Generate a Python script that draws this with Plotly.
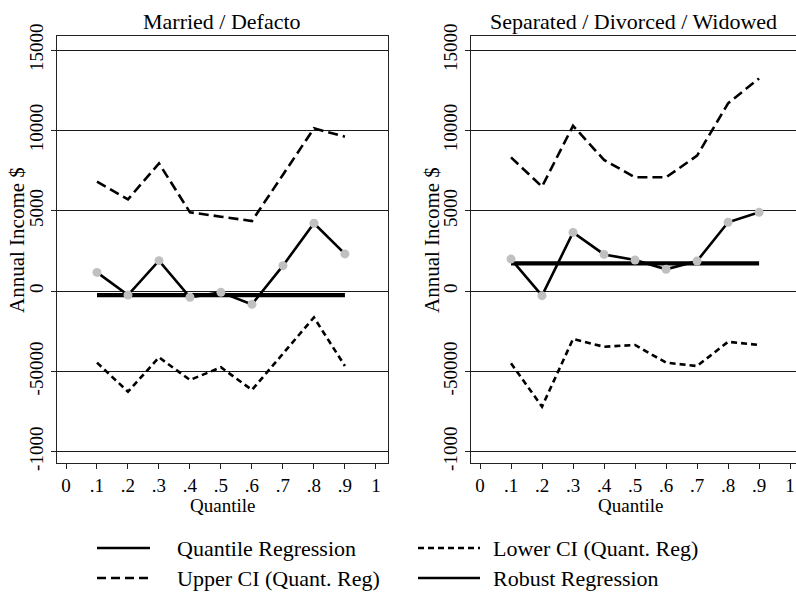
import plotly.graph_objects as go

# ---------------- data ----------------
quantiles = [0.1, 0.2, 0.3, 0.4, 0.5, 0.6, 0.7, 0.8, 0.9]

# Married / Defacto
md_qr = [1160, -250, 1890, -390, -80, -830, 1580, 4220, 2310]
md_upper = [6810, 5710, 7950, 4900, 4630, 4360, 7240, 10130, 9610]
md_lower = [-4460, -6270, -4130, -5540, -4750, -6160, -3900, -1640, -4670]
md_robust = -250

# Separated / Divorced / Widowed
sdw_qr = [1990, -290, 3650, 2280, 1930, 1350, 1870, 4280, 4900]
sdw_upper = [8320, 6500, 10290, 8160, 7080, 7080, 8430, 11690, 13240]
sdw_lower = [-4500, -7200, -2990, -3470, -3360, -4460, -4670, -3160, -3360]
sdw_robust = 1720

panel_titles = ["Married / Defacto", "Separated / Divorced / Widowed"]
x_tickvals = [0, 0.1, 0.2, 0.3, 0.4, 0.5, 0.6, 0.7, 0.8, 0.9, 1.0]
x_ticktext = ["0", ".1", ".2", ".3", ".4", ".5", ".6", ".7", ".8", ".9", "1"]
y_tickvals = [-10000, -5000, 0, 5000, 10000, 15000]
y_ticktext = ["-1000", "-50000", "0", "5000", "10000", "15000"]
legend_labels = ["Quantile Regression", "Lower CI (Quant. Reg)",
                 "Upper CI (Quant. Reg)", "Robust Regression"]

# ---------------- styling ----------------
FONT = "Liberation Serif"
W, H = 796, 593


def px_x(p):
    return p / W


def px_y(p):
    return 1 - p / H


fig = go.Figure()

panels = [
    (md_qr, md_upper, md_lower, md_robust, "x", "y"),
    (sdw_qr, sdw_upper, sdw_lower, sdw_robust, "x2", "y2"),
]

for qr, up, lo, rob, xa, ya in panels:
    fig.add_trace(go.Scatter(x=quantiles, y=up, mode="lines", xaxis=xa, yaxis=ya,
                             line=dict(color="black", width=2.6, dash="10px,5px"),
                             showlegend=False, hoverinfo="skip"))
    fig.add_trace(go.Scatter(x=quantiles, y=lo, mode="lines", xaxis=xa, yaxis=ya,
                             line=dict(color="black", width=2.6, dash="6px,4px"),
                             showlegend=False, hoverinfo="skip"))
    fig.add_trace(go.Scatter(x=[quantiles[0], quantiles[-1]], y=[rob, rob], mode="lines",
                             xaxis=xa, yaxis=ya,
                             line=dict(color="black", width=4.2),
                             showlegend=False, hoverinfo="skip"))
    fig.add_trace(go.Scatter(x=quantiles, y=qr, mode="lines+markers", xaxis=xa, yaxis=ya,
                             line=dict(color="black", width=2.6),
                             marker=dict(color="#c0c0c0", size=9, line=dict(width=0)),
                             showlegend=False, hoverinfo="skip"))

y_range = [-10690, 15880]
ydom = [px_y(462.7), px_y(36)]

xaxis_common = dict(
    showgrid=False, zeroline=False, showline=True, linecolor="#222", linewidth=1,
    ticks="outside", ticklen=5, tickcolor="#222", tickwidth=1, automargin=False,
    ticklabelstandoff=0,
    tickfont=dict(family=FONT, size=19, color="black"),
)
yaxis_common = dict(
    showgrid=True, gridcolor="#1a1a1a", gridwidth=1,
    zeroline=False, showline=True, linecolor="#222", linewidth=1,
    ticks="outside", ticklen=5, tickcolor="#222", tickwidth=1, automargin=False,
    tickfont=dict(family=FONT, size=19, color="black"), tickangle=-90,
)

fig.update_layout(
    width=W, height=H,
    margin=dict(l=0, r=0, t=0, b=0, autoexpand=False),
    paper_bgcolor="white", plot_bgcolor="white",
    font=dict(family=FONT, color="black"),
    showlegend=False,
    xaxis=dict(domain=[px_x(56.7), px_x(387.7)], range=[-0.030, 1.038],
               tickvals=x_tickvals, ticktext=x_ticktext, anchor="y", mirror=True,
               **xaxis_common),
    yaxis=dict(domain=ydom, range=y_range, tickvals=y_tickvals, ticktext=y_ticktext,
               anchor="x", mirror=True, **yaxis_common),
    xaxis2=dict(domain=[px_x(470.7), 1.0], range=[-0.030, 1.019],
                tickvals=x_tickvals, ticktext=x_ticktext, anchor="y2", mirror=True,
                **xaxis_common),
    yaxis2=dict(domain=ydom, range=y_range, tickvals=y_tickvals, ticktext=y_ticktext,
                anchor="x2", mirror=False, **yaxis_common),
)

annotations = []
# panel titles
for title, cx in zip(panel_titles, [(56.7 + 387.7) / 2, (470.7 + 796) / 2]):
    annotations.append(dict(text=title, x=px_x(cx), y=px_y(21), xref="paper", yref="paper",
                            showarrow=False, xanchor="center", yanchor="middle",
                            font=dict(family=FONT, size=22, color="black")))
# axis titles
for cx in [(56.7 + 387.7) / 2, (470.7 + 796) / 2 - 3]:
    annotations.append(dict(text="Quantile", x=px_x(cx), y=px_y(505), xref="paper", yref="paper",
                            showarrow=False, xanchor="center", yanchor="middle",
                            font=dict(family=FONT, size=19, color="black")))
for cx in [17, 432]:
    annotations.append(dict(text="Annual Income $", x=px_x(cx), y=px_y(240), xref="paper",
                            yref="paper", showarrow=False, textangle=-90,
                            xanchor="center", yanchor="middle",
                            font=dict(family=FONT, size=21, color="black")))

# legend (drawn manually)
shapes = []
legend_items = [
    (legend_labels[0], "solid", 97, 150, 175, 548),
    (legend_labels[1], "6px,4px", 418, 480, 491, 548),
    (legend_labels[2], "9px,5px", 97, 150, 175, 578),
    (legend_labels[3], "solid", 418, 480, 491, 578),
]
for label, dash, x0, x1, tx, ty in legend_items:
    shapes.append(dict(type="line", xref="paper", yref="paper",
                       x0=px_x(x0), x1=px_x(x1), y0=px_y(ty), y1=px_y(ty),
                       line=dict(color="black", width=2.6, dash=dash)))
    annotations.append(dict(text=label, x=px_x(tx), y=px_y(ty), xref="paper", yref="paper",
                            showarrow=False, xanchor="left", yanchor="middle",
                            font=dict(family=FONT, size=22, color="black")))

fig.update_layout(annotations=annotations, shapes=shapes)

fig.write_html("out.html")
